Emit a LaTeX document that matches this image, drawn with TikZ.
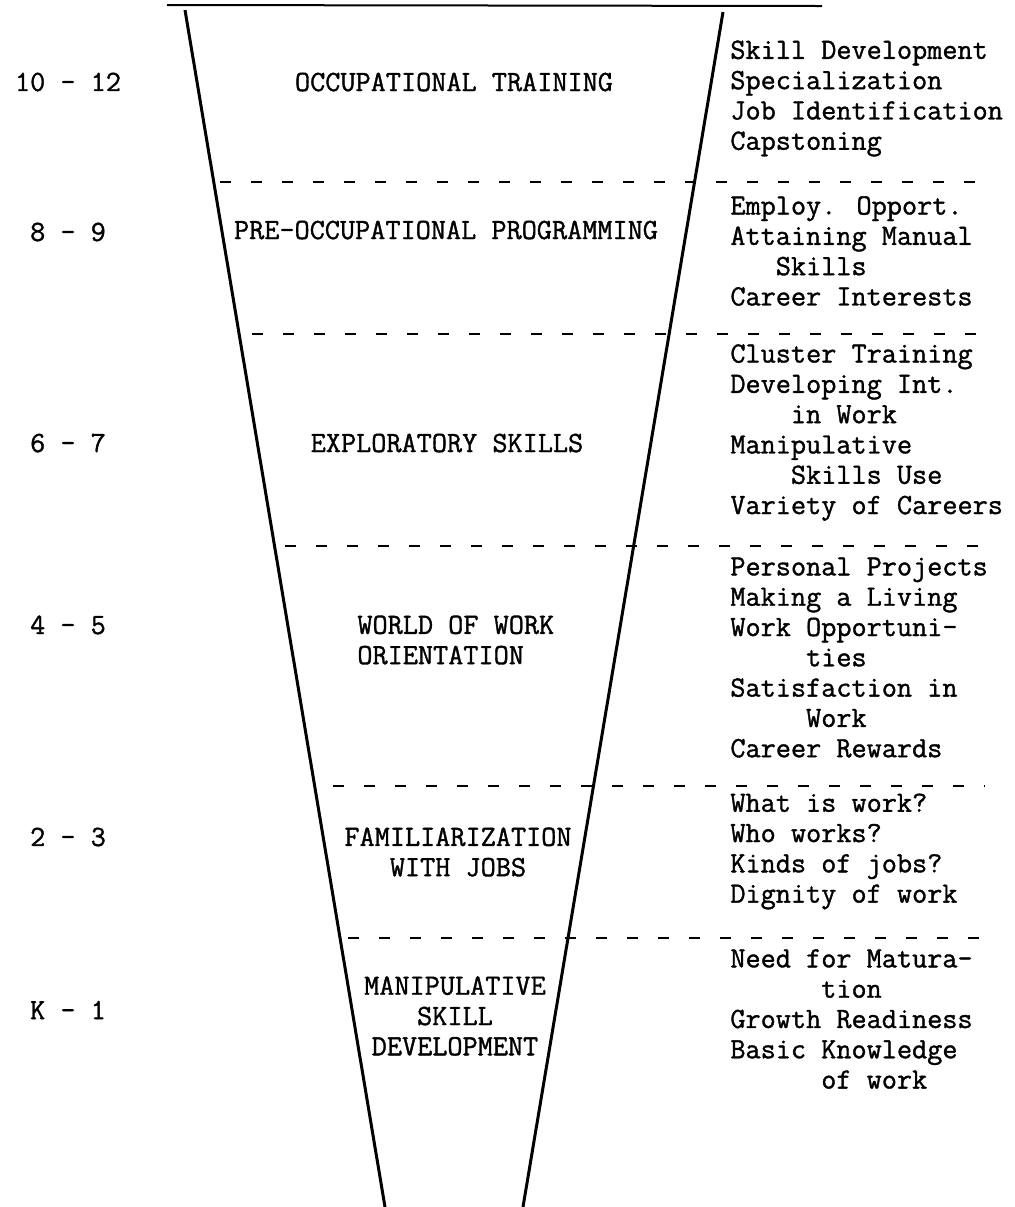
\documentclass[tikz,border=0pt]{standalone}
\usepackage{fontspec}
\newfontfamily\typefont{Latin Modern Mono}[FakeBold=1.2]
\begin{document}
\begin{tikzpicture}[line join=round,x=0.5pt,y=-0.5pt]
	\tikzset{every node/.style={font=\typefont\bfseries\fontsize{14.7}{15.15}\selectfont,inner sep=0pt},
		grade/.style={anchor=center},
		stage/.style={align=center},
		topic/.style={anchor=west,align=left},
		sep/.style={line width=1.3pt,dash pattern=on 5.5pt off 10pt}}
	\useasboundingbox (0,0) rectangle (1014,1207);
	\coordinate (LT) at (185,10);
	\coordinate (LB) at (385,1207);
	\coordinate (RT) at (723,12);
	\coordinate (RB) at (523,1207);
	\draw[line width=1pt] (167,5)--(822,6);
	\draw[line width=1.5pt] (LT)--(LB) (RT)--(RB);
	\draw[sep] (220,182)--(985,182) (252,334)--(985,334) (285,546)--(985,546)
		(333,786)--(985,786) (348,938)--(985,938);
	\node[grade] (g12) at (68,82) {10 - 12};
	\node[grade] (g9) at (68,232) {8 - 9};
	\node[grade] (g7) at (68,443) {6 - 7};
	\node[grade] (g5) at (68,625) {4 - 5};
	\node[grade] (g3) at (68,837) {2 - 3};
	\node[grade] (g1) at (68,1010) {K - 1};
	\node[stage] (occ) at (454,82) {OCCUPATIONAL TRAINING};
	\node[stage] (preocc) at (446,230) {PRE-OCCUPATIONAL PROGRAMMING};
	\node[stage] (explo) at (447,443) {EXPLORATORY SKILLS};
	\node[topic] (world) at (357,640) {WORLD OF WORK\\ORIENTATION};
	\node[stage] (famil) at (458,852) {FAMILIARIZATION\\WITH JOBS};
	\node[stage] (manip) at (455,1016) {MANIPULATIVE\\SKILL\\DEVELOPMENT};
	\node[topic] (t12) at (730,98.5) {Skill Development\\Specialization\\Job Identification\\Capstoning};
	\node[topic] (t9) at (730,251) {Employ. Opport.\\Attaining Manual\\~~~Skills\\Career Interests};
	\node[topic] (t7) at (730,432.5) {Cluster Training\\Developing Int.\\~~~~in Work\\Manipulative\\~~~~Skills Use\\Variety of Careers};
	\node[topic] (t5) at (730,657.5) {Personal Projects\\Making a Living\\Work Opportuni-\\~~~~~ties\\Satisfaction in\\~~~~~Work\\Career Rewards};
	\node[topic] (t3) at (730,851.5) {What is work?\\Who works?\\Kinds of jobs?\\Dignity of work};
	\node[topic] (t1) at (730,1019) {Need for Matura-\\~~~~~~tion\\Growth Readiness\\Basic Knowledge\\~~~~~~of work};
\end{tikzpicture}
\end{document}
